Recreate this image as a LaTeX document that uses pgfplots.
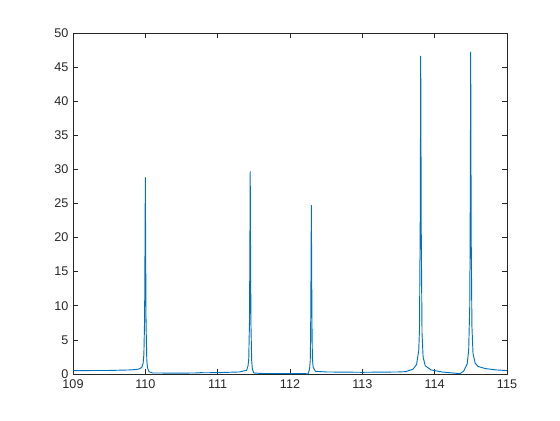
\documentclass[border=0pt]{standalone}
\usepackage{fontspec}
\setmainfont{Liberation Sans}
\usepackage{pgfplots}
\pgfplotsset{compat=1.18}
\definecolor{mblue}{rgb}{0,0.447,0.741}
\definecolor{maxis}{rgb}{0.15,0.15,0.15}
\begin{document}
\begin{tikzpicture}
\begin{axis}[
  name=ax,
  scale only axis,
  width=325.5bp, height=255.75bp,
  xmin=109, xmax=115, ymin=0, ymax=50,
  xtick={109,110,...,115}, ytick={0,5,...,50},
  tick align=inside,
  major tick length=3.4bp,
  axis line style={maxis, line width=0.5pt},
  every tick/.style={maxis, line width=0.5pt},
  tick label style={font=\fontsize{9.5}{11}\selectfont, text=maxis},
  /pgf/number format/assume math mode=true,
  /pgf/number format/1000 sep={},
  xticklabel style={yshift=-1bp},
]
\addplot[mblue, line width=0.7pt, line join=round] coordinates {
(109,0.50) (109.5,0.52) (109.8,0.60) (109.9,0.70) (109.95,0.95) (109.97,1.6)
(109.98,2.9) (109.99,8.1) (109.995,17.5) (110.0,28.8) (110.005,17.0) (110.01,7.4)
(110.02,2.1) (110.03,0.9) (110.05,0.35) (110.1,0.15) (110.5,0.13) (110.75,0.16)
(110.77,0.22) (110.8,0.18) (111.0,0.2) (111.3,0.3) (111.4,0.55) (111.42,1.2)
(111.43,2.3) (111.44,7.8) (111.445,17.5) (111.45,29.7) (111.455,17.3) (111.46,7.3)
(111.47,2.0) (111.48,0.7) (111.5,0.15) (111.6,0.08) (112.0,0.07) (112.2,0.06)
(112.25,0.02) (112.27,0.7) (112.28,2.0) (112.285,5.5) (112.29,14) (112.295,24.7)
(112.30,14.2) (112.305,5.8) (112.31,2.2) (112.32,1.0) (112.35,0.4) (112.5,0.3)
(113.0,0.25) (113.5,0.3) (113.6,0.35) (113.7,0.7) (113.75,1.4) (113.78,3.5)
(113.79,6.5) (113.80,22) (113.807,46.6) (113.815,20) (113.825,6) (113.84,2.5)
(113.87,1.2) (113.95,0.6) (114.1,0.3) (114.3,0.1) (114.35,0.05) (114.4,0.4)
(114.45,1.5) (114.47,3.5) (114.485,10) (114.49,19) (114.498,47.2) (114.505,20)
(114.515,7) (114.53,3.0) (114.56,1.6) (114.6,1.1) (114.7,0.8) (114.85,0.6)
(115,0.5)
};
\end{axis}
\pgfresetboundingbox
\path (ax.south west) ++(-54.75bp,-34.5bp) coordinate (bl);
\path (ax.north east) ++(39.75bp,24.75bp) coordinate (tr);
\path[use as bounding box] (bl) rectangle (tr);
\end{tikzpicture}
\end{document}
